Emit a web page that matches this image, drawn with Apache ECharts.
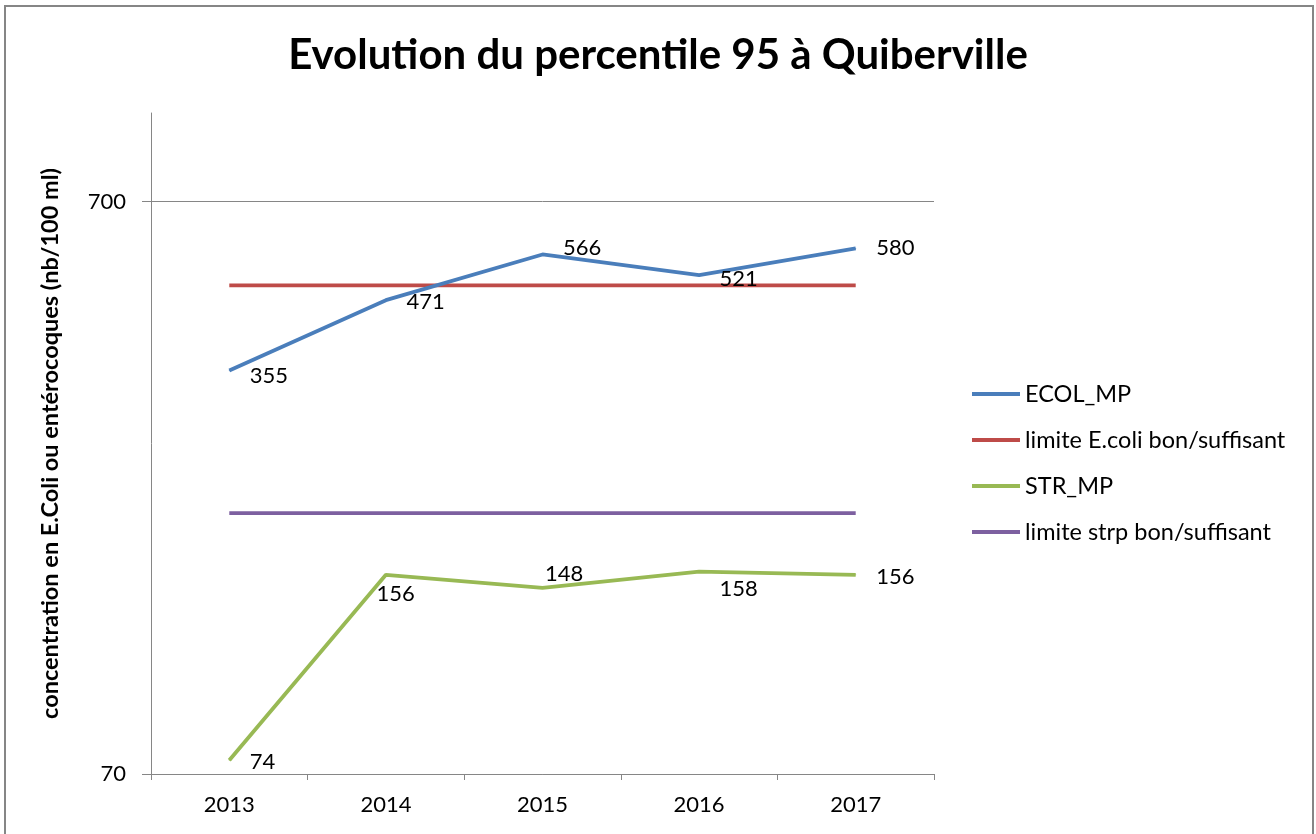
<!DOCTYPE html>
<html>
<head>
<meta charset="utf-8">
<script src="https://cdn.jsdelivr.net/npm/echarts@6/dist/echarts.min.js"></script>
<style>
  html, body { margin: 0; padding: 0; background: #fff; }
  #chart { width: 1316px; height: 834px; }
</style>
</head>
<body>
<div id="chart"></div>
<script>
const years = ['2013', '2014', '2015', '2016', '2017']
const ecolMp = [355, 471, 566, 521, 580]
const limiteEcoli = [500, 500, 500, 500, 500]
const strMp = [74, 156, 148, 158, 156]
const limiteStrp = [200, 200, 200, 200, 200]
const yTicks = [70, 700]

// label nudges so the numbers sit where Excel put them
const ecolOffsets = [[0, 5], [0, 2], [0, -7], [0, 4], [0, 0]]
const strOffsets = [[0, 2], [-30, 19], [-18, -14], [0, 17], [0, 2]]

const FONT = 'Lato, "Open Sans", sans-serif'

function withLabels(values, offsets) {
  return values.map((v, i) => ({ value: v, label: { offset: offsets[i] } }))
}

const chart = echarts.init(document.getElementById('chart'), null, { renderer: 'canvas' })

const lineLabel = {
  show: true, position: 'right', distance: 20,
  color: '#000', fontSize: 22, fontFamily: FONT,
}

chart.setOption({
  animation: false,
  backgroundColor: '#fff',
  textStyle: { fontFamily: FONT },
  title: {
    text: 'Evolution du percentile 95 à Quiberville',
    left: 'center', top: 26,
    textStyle: { fontSize: 42, fontWeight: 'bold', color: '#000', fontFamily: FONT, lineHeight: 48 },
  },
  graphic: [{
    type: 'rect', silent: true,
    shape: { x: 5, y: 6, width: 1308, height: 860 },
    style: { fill: 'none', stroke: '#868686', lineWidth: 2 },
  }],
  legend: {
    orient: 'vertical', left: 972, top: 382, padding: 0,
    icon: 'rect', itemWidth: 48, itemHeight: 4, itemGap: 22,
    textStyle: { fontSize: 23.5, color: '#000', fontFamily: FONT },
    data: ['ECOL_MP', 'limite E.coli bon/suffisant', 'STR_MP', 'limite strp bon/suffisant'],
  },
  grid: { left: 151, right: 382, top: 113, bottom: 60, outerBoundsMode: 'none' },
  xAxis: {
    type: 'category', data: years, boundaryGap: true,
    axisLine: { lineStyle: { color: '#868686', width: 1 } },
    axisTick: { show: true, length: 6, lineStyle: { color: '#868686' } },
    axisLabel: { color: '#000', fontSize: 22, margin: 20, fontFamily: FONT },
    splitLine: { show: false },
  },
  yAxis: {
    type: 'log', logBase: 10, min: 70, max: 1000,
    name: 'concentration en E.Coli ou entérocoques (nb/100 ml)',
    nameLocation: 'middle', nameRotate: 90, nameGap: 89,
    nameTextStyle: { fontSize: 23.5, fontWeight: 'bold', color: '#000', fontFamily: FONT },
    axisLine: { show: true, lineStyle: { color: '#868686', width: 1 } },
    axisTick: { show: true, length: 9, customValues: yTicks, lineStyle: { color: '#868686' } },
    axisLabel: { color: '#000', fontSize: 22, margin: 25, customValues: yTicks, fontFamily: FONT },
    splitLine: { show: true, lineStyle: { color: '#868686', width: 1 } },
    minorTick: { show: false }, minorSplitLine: { show: false },
  },
  series: [
    {
      name: 'ECOL_MP', type: 'line', data: withLabels(ecolMp, ecolOffsets),
      symbol: 'circle', symbolSize: 1, color: '#4a7ebb',
      lineStyle: { width: 3.8, color: '#4a7ebb' }, label: lineLabel, z: 4,
    },
    {
      name: 'limite E.coli bon/suffisant', type: 'line', data: limiteEcoli,
      symbol: 'none', color: '#be4b48',
      lineStyle: { width: 3.8, color: '#be4b48' }, z: 3,
    },
    {
      name: 'STR_MP', type: 'line', data: withLabels(strMp, strOffsets),
      symbol: 'circle', symbolSize: 1, color: '#98b954',
      lineStyle: { width: 3.8, color: '#98b954' }, label: lineLabel, z: 4,
    },
    {
      name: 'limite strp bon/suffisant', type: 'line', data: limiteStrp,
      symbol: 'none', color: '#7d60a0',
      lineStyle: { width: 3.8, color: '#7d60a0' }, z: 3,
    },
  ],
})
</script>
</body>
</html>
